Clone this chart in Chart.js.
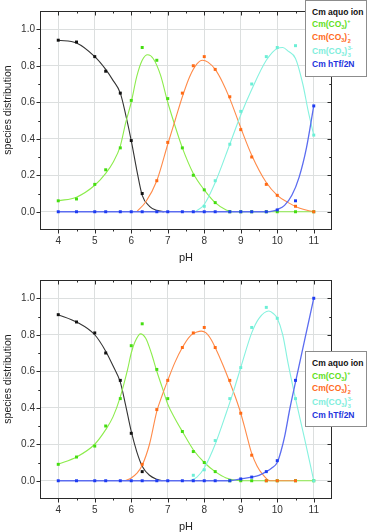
<!DOCTYPE html>
<html><head><meta charset="utf-8">
<script src="https://cdn.jsdelivr.net/npm/chart.js@4.4.1/dist/chart.umd.min.js"></script>
<style>
html,body{margin:0;padding:0;background:#fff;}
#wrap{position:relative;width:368px;height:532px;overflow:hidden;font-family:"Liberation Sans",Arial,sans-serif;}
.cv{position:absolute;left:0;width:368px;height:263px;}
.leg{position:absolute;left:305px;width:62px;background:#fff;border:1px solid #8c8c8c;box-sizing:border-box;}
.leg div{position:absolute;left:6px;font-size:8.5px;font-weight:bold;white-space:nowrap;line-height:10px;}
.s{font-size:5.5px;position:relative;top:2px;}
.p{font-size:5.5px;position:relative;top:-4px;}
.st{display:inline-block;position:relative;width:6px;height:10px;vertical-align:top;}
.st i{position:absolute;left:0.5px;font-style:normal;font-size:5.5px;line-height:6px;}
.st .u{top:-1px;} .st .d{top:6px;}
.ytitle{position:absolute;left:-53px;width:120px;height:12px;line-height:12px;text-align:center;font-size:10.5px;color:#222;transform:rotate(-90deg);white-space:nowrap;}
</style></head>
<body><div id="wrap">
<canvas id="c1" class="cv" width="368" height="263" style="top:0"></canvas>
<canvas id="c2" class="cv" width="368" height="263" style="top:269px"></canvas>
<div class="ytitle" style="top:104px">species distribution</div>
<div class="ytitle" style="top:373px">species distribution</div>
<div class="leg" style="top:0;height:77px">
 <div style="top:6px;color:#111">Cm aquo ion</div>
 <div style="top:18px;color:#5fe01c">Cm(CO<span class="s">3</span>)<span class="p">+</span></div>
 <div style="top:31px;color:#ff6a1c">Cm(CO<span class="s">3</span>)<span class="st"><i class="u">-</i><i class="d">2</i></span></div>
 <div style="top:45px;color:#7eeedc">Cm(CO<span class="s">3</span>)<span class="st"><i class="u">3-</i><i class="d">3</i></span></div>
 <div style="top:58px;color:#2233dd">Cm hTf/2N</div>
</div>
<div class="leg" style="top:351px;height:76px">
 <div style="top:6px;color:#111">Cm aquo ion</div>
 <div style="top:19px;color:#5fe01c">Cm(CO<span class="s">3</span>)<span class="p">+</span></div>
 <div style="top:31px;color:#ff6a1c">Cm(CO<span class="s">3</span>)<span class="st"><i class="u">-</i><i class="d">2</i></span></div>
 <div style="top:45px;color:#7eeedc">Cm(CO<span class="s">3</span>)<span class="st"><i class="u">3-</i><i class="d">3</i></span></div>
 <div style="top:58px;color:#2233dd">Cm hTf/2N</div>
</div>
</div>
<script>
const FONT = '"Liberation Sans", Arial, sans-serif';
const xTicks = [4,5,6,7,8,9,10,11];
const yTicks = [0,0.2,0.4,0.6,0.8,1.0];
const yTickLabels = ['0.0','0.2','0.4','0.6','0.8','1.0'];
const seriesNames = ['Cm aquo ion','Cm(CO3)+','Cm(CO3)2-','Cm(CO3)3 3-','Cm hTf/2N'];

// measured pH values of the points
const ptPH = [4,4.5,5,5.3,5.7,6,6.3,6.7,7,7.4,7.7,8,8.3,8.7,9,9.3,9.7,10,10.5,11];

// ---- top panel: measured points ----
const topAquoPts  = [0.94,0.93,0.85,0.77,0.65,0.39,0.10,null,null,null,null,null,null,null,null,null,null,null,null,null];
const topCO3Pts   = [0.06,0.07,0.15,0.23,0.35,0.61,0.90,0.83,0.62,0.35,0.20,0.12,0.05,0,0,0,0,0,0,0];
const topCO3_2Pts = [null,null,null,null,null,null,null,0.17,0.38,0.65,0.80,0.85,0.78,0.63,0.45,0.30,0.15,0.09,0.03,0];
const topCO3_3Pts = [null,null,null,null,null,null,null,null,null,null,null,0.03,0.17,0.37,0.55,0.70,0.85,0.90,0.91,0.42];
const topHTfPts   = [0,0,0,0,0,0,0,0,0,0,0,0,0,0,0,0,0,0.01,0.06,0.58];

// ---- top panel: fitted curves ----
const topAquoCurveX = [4,4.5,5,5.3,5.5,5.7,5.85,6,6.15,6.3,6.5,6.7,6.9];
const topAquoCurveY = [0.94,0.925,0.85,0.78,0.72,0.65,0.53,0.39,0.23,0.09,0.03,0.008,0];
const topCO3CurveX = [4,4.5,5,5.3,5.5,5.7,5.85,6,6.15,6.3,6.45,6.6,6.8,7,7.2,7.4,7.7,8,8.3,8.6,8.8,11];
const topCO3CurveY = [0.06,0.08,0.145,0.21,0.27,0.36,0.49,0.60,0.74,0.83,0.86,0.84,0.75,0.60,0.47,0.35,0.21,0.12,0.05,0.01,0,0];
const topCO3_2CurveX = [6.15,6.4,6.7,7,7.2,7.4,7.6,7.8,7.95,8.1,8.3,8.5,8.7,9,9.3,9.7,10,10.3,10.6,11];
const topCO3_2CurveY = [0,0.055,0.17,0.37,0.50,0.63,0.74,0.81,0.83,0.82,0.78,0.71,0.62,0.46,0.31,0.16,0.09,0.05,0.02,0];
const topCO3_3CurveX = [7.75,8,8.3,8.7,9,9.3,9.7,10,10.15,10.3,10.5,10.7,10.85,11];
const topCO3_3CurveY = [0,0.04,0.16,0.37,0.53,0.67,0.83,0.895,0.90,0.88,0.84,0.70,0.55,0.42];
const topHTfCurveX = [4,9.7,9.9,10,10.2,10.4,10.6,10.8,11];
const topHTfCurveY = [0,0,0.005,0.012,0.035,0.09,0.19,0.35,0.58];

// ---- bottom panel: measured points ----
const botAquoPts  = [0.91,0.87,0.81,0.70,0.55,0.26,0.05,null,null,null,null,null,null,null,null,null,null,null,null,null];
const botCO3Pts   = [0.09,0.13,0.19,0.30,0.45,0.74,0.86,0.61,0.45,0.27,0.16,0.10,0.05,0,0,0,0,0,0,0];
const botCO3_2Pts = [null,null,null,null,null,null,0.09,0.39,0.55,0.73,0.81,0.84,0.73,0.55,0.37,0.14,0,0,0,null];
const botCO3_3Pts = [null,null,null,null,null,null,null,null,null,null,0.03,0.06,0.22,0.45,0.62,0.84,0.95,0.89,0.45,0];
const botHTfPts   = [0,0,0,0,0,0,0,0,0,0,0,0,0,0,0.01,0.02,0.05,0.11,0.55,1.0];

// ---- bottom panel: fitted curves ----
const botAquoCurveX = [4,4.5,5,5.3,5.5,5.7,5.85,6,6.15,6.3,6.5,6.7,6.85];
const botAquoCurveY = [0.91,0.87,0.80,0.71,0.63,0.54,0.41,0.27,0.16,0.08,0.03,0.008,0];
const botCO3CurveX = [4,4.5,5,5.3,5.5,5.7,5.9,6,6.1,6.25,6.4,6.55,6.7,6.85,7,7.2,7.4,7.7,8,8.3,8.6,8.9,9.1,11];
const botCO3CurveY = [0.09,0.13,0.20,0.28,0.35,0.46,0.61,0.70,0.76,0.805,0.78,0.70,0.60,0.51,0.42,0.34,0.27,0.17,0.10,0.05,0.015,0.002,0,0];
const botCO3_2CurveX = [5.82,6,6.15,6.3,6.5,6.7,6.85,7,7.2,7.4,7.6,7.8,7.92,8.05,8.2,8.3,8.5,8.7,8.85,9,9.15,9.3,9.45,9.6,9.8,10.5];
const botCO3_2CurveY = [0,0.015,0.04,0.085,0.2,0.38,0.47,0.55,0.65,0.73,0.79,0.815,0.82,0.81,0.77,0.73,0.64,0.54,0.46,0.37,0.26,0.15,0.08,0.035,0,0];
const botCO3_3CurveX = [7.6,7.8,8,8.3,8.6,8.8,9,9.3,9.5,9.77,9.9,10,10.15,10.3,10.5,10.75,11];
const botCO3_3CurveY = [0,0.02,0.07,0.2,0.37,0.49,0.62,0.81,0.89,0.93,0.915,0.89,0.80,0.64,0.45,0.23,0];
const botHTfCurveX = [4,8.7,9,9.3,9.5,9.7,9.85,10,10.1,10.2,10.35,10.5,10.75,11];
const botHTfCurveY = [0,0,0.01,0.02,0.03,0.05,0.07,0.10,0.16,0.24,0.40,0.54,0.77,1.0];

const curveColors = ['#333333','#8cec4c','#ff8a48','#86f2df','#5b6cf0'];
const pointColors = ['#111111','#44dd10','#ff6a14','#6cefd6','#1e3cf2'];

function pts(vals){ const out=[]; ptPH.forEach((x,i)=>{ if(vals[i]!==null) out.push({x:x,y:vals[i]}); }); return out; }
function crv(xs,ys){ return xs.map((x,i)=>({x:x,y:ys[i]})); }

const framePlugin = {
  id:'frame',
  afterDraw(chart){
    const {ctx, chartArea:a, scales:{x,y}} = chart;
    ctx.save();
    ctx.strokeStyle='#2a2a2a'; ctx.lineWidth=1;
    const L=Math.round(a.left)+0.5, R=Math.round(a.right)-0.5, T=Math.round(a.top)+0.5, B=Math.round(a.bottom)-0.5;
    ctx.strokeRect(L,T,R-L,B-T);
    ctx.beginPath();
    xTicks.forEach(t=>{
      [[t,4],[t+0.5,2]].forEach(([v,len])=>{
        if(v>=x.max) return;
        const px=Math.round(x.getPixelForValue(v))+0.5;
        ctx.moveTo(px,B); ctx.lineTo(px,B+len);
        ctx.moveTo(px,T); ctx.lineTo(px,T+len);
      });
    });
    yTicks.forEach(t=>{
      [[t,4],[t+0.1,2],[t-0.1,2]].forEach(([v,len])=>{
        if(v<=y.min+1e-6 || v>=y.max-1e-6) return;
        const py=Math.round(y.getPixelForValue(v))+0.5;
        ctx.moveTo(L,py); ctx.lineTo(L-len,py);
        ctx.moveTo(R,py); ctx.lineTo(R-len,py);
      });
    });
    ctx.stroke();
    ctx.restore();
  }
};

function makeChart(id, P, C){
  const datasets=[];
  [4,3,2,1,0].forEach(i=>{
    datasets.push({label:seriesNames[i]+' data', data:pts(P[i]), showLine:false,
      pointStyle:'rect', pointRadius:2.1, pointBorderWidth:0, backgroundColor:pointColors[i], borderColor:pointColors[i]});
  });
  [4,3,2,1,0].forEach(i=>{
    datasets.push({label:seriesNames[i]+' fit', data:crv(C[i][0],C[i][1]), showLine:true, pointRadius:0,
      borderColor:curveColors[i], borderWidth:(i===4?1.3:1.1), cubicInterpolationMode:'monotone', fill:false});
  });
  return new Chart(document.getElementById(id), {
    type:'scatter',
    data:{datasets},
    options:{
      responsive:false, animation:false, devicePixelRatio:1,
      layout:{padding:{left:0,right:36,top:10,bottom:0}},
      plugins:{legend:{display:false}, tooltip:{enabled:false}},
      scales:{
        x:{type:'linear', min:3.5, max:11.5,
          afterBuildTicks:s=>{ s.ticks=xTicks.map(v=>({value:v})); },
          afterFit:s=>{ s.height=33; },
          grid:{color:'#dcdfdf', drawTicks:false, lineWidth:1},
          border:{display:false},
          ticks:{padding:5, color:'#333', font:{family:FONT,size:10}, maxRotation:0, autoSkip:false, callback:v=>String(v)},
          title:{display:true, text:'pH', color:'#222', font:{family:FONT,size:11,lineHeight:1}, padding:{top:0,bottom:0}}
        },
        y:{type:'linear', min:-0.1, max:1.1,
          afterBuildTicks:s=>{ s.ticks=yTicks.map(v=>({value:v})); },
          afterFit:s=>{ s.width=40; },
          grid:{color:'#dcdfdf', drawTicks:false, lineWidth:1},
          border:{display:false},
          ticks:{padding:5, color:'#333', font:{family:FONT,size:10}, autoSkip:false,
            callback:(v,i)=>yTickLabels[i]},
          title:{display:false}
        }
      }
    },
    plugins:[framePlugin]
  });
}

makeChart('c1',
  [topAquoPts, topCO3Pts, topCO3_2Pts, topCO3_3Pts, topHTfPts],
  [[topAquoCurveX,topAquoCurveY],[topCO3CurveX,topCO3CurveY],[topCO3_2CurveX,topCO3_2CurveY],[topCO3_3CurveX,topCO3_3CurveY],[topHTfCurveX,topHTfCurveY]]);
makeChart('c2',
  [botAquoPts, botCO3Pts, botCO3_2Pts, botCO3_3Pts, botHTfPts],
  [[botAquoCurveX,botAquoCurveY],[botCO3CurveX,botCO3CurveY],[botCO3_2CurveX,botCO3_2CurveY],[botCO3_3CurveX,botCO3_3CurveY],[botHTfCurveX,botHTfCurveY]]);
</script>
</body></html>
